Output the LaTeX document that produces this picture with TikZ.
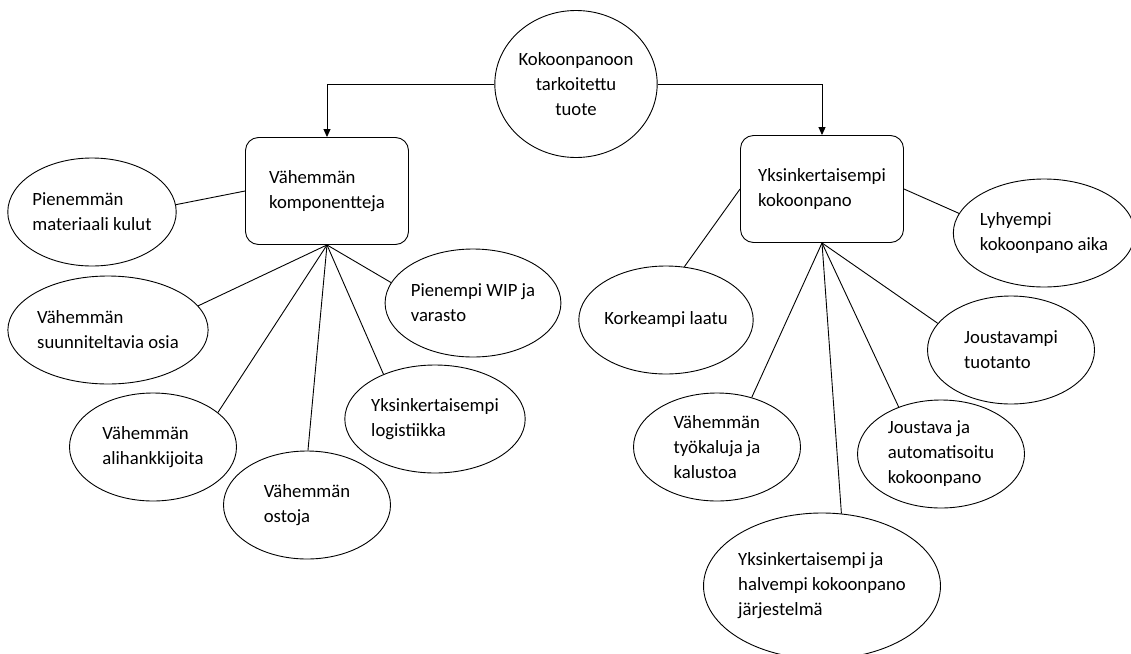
\documentclass[tikz,border=0pt]{standalone}
\usepackage{fontspec}
\setmainfont{Carlito}
\usetikzlibrary{arrows.meta,shapes.geometric}

\begin{document}
\begin{tikzpicture}[x=1pt, y=-1pt, line width=0.9pt,
    every node/.style={font=\fontsize{18.7}{25}\selectfont, align=left, inner sep=0pt},
    hub/.style={draw, ellipse, minimum width=157pt, minimum height=147pt, align=center},
    group/.style={draw, rounded corners=13pt, minimum width=163pt, minimum height=107pt},
    idea/.style={draw, ellipse, minimum width=167pt, minimum height=108pt}]
    \useasboundingbox (0,0) rectangle (1131,653);
    \node[hub] (tuote) at (576,84) {Kokoonpanoon\\tarkoitettu\\tuote};
    \node[group] (komp) at (327,191) {Vähemmän\\komponentteja};
    \node[group] (yks) at (822,189) {Yksinkertaisempi\\kokoonpano};
    \draw[-{Triangle[length=8pt,width=7pt]}] (tuote.west) -| (komp.north);
    \draw[-{Triangle[length=8pt,width=7pt]}] (tuote.east) -| (yks.north);
    % left branch
    \node[idea, minimum width=168pt] (mat) at (92,212) {Pienemmän\\materiaali kulut};
    \node[idea] (suun) at (108,330) {Vähemmän\\suunniteltavia osia};
    \node[idea] (ali) at (153,447) {Vähemmän\\alihankkijoita};
    \node[idea] (ost) at (307,505) {Vähemmän\\ostoja};
    \node[idea] (log) at (435,419) {Yksinkertaisempi\\logistiikka};
    \node[idea] (wip) at (473,303) {Pienempi WIP ja\\varasto};
    \draw (mat.5) -- (komp.west);
    \draw (komp.south) -- (suun.15);
    \draw (komp.south) -- (ali.28);
    \draw (komp.south) -- (ost.89);
    \draw (komp.south) -- (log.139);
    \draw (komp.south) -- (wip.166);
    % right branch
    \node[idea] (kork) at (666,320) {Korkeampi laatu};
    \node[idea, minimum width=164pt] (lyh) at (1044,233) {Lyhyempi\\kokoonpano aika};
    \node[idea] (jou) at (1011,350) {Joustavampi\\tuotanto};
    \node[idea] (tyo) at (717,447) {Vähemmän\\työkaluja ja\\kalustoa};
    \node[idea] (aut) at (941,454) {Joustava ja\\automatisoitu\\kokoonpano};
    \node[idea, minimum width=216pt, minimum height=146pt] (jar) at (822,586) {Yksinkertaisempi ja\\halvempi kokoonpano\\järjestelmä};
    \draw (kork.71) -- (yks.west);
    \draw (yks.east) -- (lyh.167);
    \draw (yks.south) -- (tyo.55);
    \draw (yks.south) -- (jar.75);
    \draw (yks.south) -- (aut.132);
    \draw (yks.south) -- (jou.160);
\end{tikzpicture}
\end{document}
